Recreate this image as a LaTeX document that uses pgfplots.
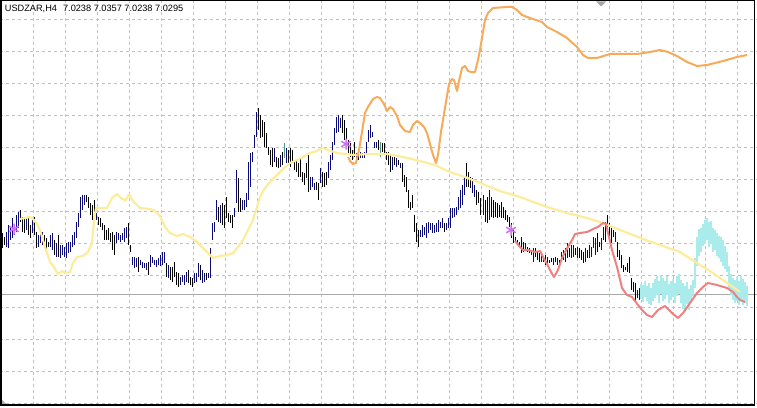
\documentclass[border=0pt]{standalone}
\usepackage{pgfplots}
\pgfplotsset{compat=1.18}
\usepackage{pgfplotstable}
\usepackage{fontspec}
\setmainfont{Liberation Sans}
\definecolor{barnavy}{RGB}{10,10,120}
\definecolor{barteal}{RGB}{80,150,130}
\definecolor{maY}{RGB}{253,236,155}
\definecolor{maO}{RGB}{246,170,90}
\definecolor{maR}{RGB}{240,128,128}
\definecolor{cyb}{RGB}{170,236,236}
\definecolor{gridc}{RGB}{192,192,192}
\definecolor{starc}{RGB}{210,110,240}

% bars in screen pixels: x, top y, bottom y, colour (0 black, 1 navy, 2 teal)
\pgfplotstableread{
x t b c
2 233 248 0
4 237 245 0
6 232 247 1
8 225 248 1
10 227 240 1
12 218 238 1
14 225 235 1
16 215 232 1
18 212 228 1
20 210 222 0
22 217 232 0
24 218 233 0
26 217 230 1
28 217 235 0
30 225 238 0
32 218 233 1
34 217 235 0
36 232 248 0
38 235 247 1
40 233 243 1
42 232 245 1
44 235 247 0
46 238 250 0
48 242 247 0
50 235 247 1
52 233 250 1
54 240 255 0
56 243 257 1
58 235 257 0
60 245 258 1
62 245 255 1
64 247 257 1
66 243 258 1
68 242 253 1
70 242 252 1
72 235 247 1
74 232 245 1
76 222 238 1
78 213 227 1
80 197 218 1
82 195 210 1
84 195 205 1
86 195 202 0
88 197 208 0
90 203 215 0
92 205 220 0
94 200 218 0
96 213 220 1
98 217 225 0
100 218 227 0
102 223 230 0
104 225 240 0
106 230 240 0
108 228 240 0
110 233 242 0
112 232 250 0
114 235 255 0
116 232 243 1
118 233 240 1
120 235 242 1
122 233 240 1
124 228 242 1
126 227 238 1
128 223 245 0
130 245 252 0
132 257 265 1
134 257 268 1
136 258 267 1
138 257 272 0
140 260 265 1
142 262 268 1
144 263 268 1
146 263 270 1
148 262 275 0
150 255 267 1
152 257 263 1
154 260 265 1
156 260 267 1
158 258 265 1
160 255 266 1
162 252 265 1
164 252 263 1
166 263 277 0
168 265 278 1
170 267 280 0
172 267 282 0
174 262 277 0
176 272 285 0
178 273 287 0
180 277 285 1
182 275 282 1
184 275 285 1
186 272 282 1
188 270 283 0
190 277 285 0
192 278 287 0
194 273 283 1
196 273 282 1
198 263 277 1
200 265 280 0
202 270 283 1
204 273 282 1
206 273 280 0
208 273 278 1
210 248 278 1
212 223 240 1
214 222 232 1
216 200 220 1
218 207 222 0
220 205 223 1
222 203 225 0
224 205 228 0
226 197 218 0
228 213 222 0
230 215 223 0
232 215 228 0
234 208 217 1
236 170 203 1
238 178 212 0
240 198 212 0
242 200 210 1
244 200 210 1
246 193 207 1
248 162 200 1
250 153 187 1
252 152 162 1
254 135 148 1
256 112 137 1
258 108 130 0
260 115 138 0
262 120 137 0
264 122 147 0
266 133 148 0
268 147 155 0
270 150 165 0
272 148 167 0
274 148 162 1
276 157 167 0
278 158 168 0
280 155 167 1
282 152 165 0
284 143 158 2
286 148 163 1
288 150 163 0
290 148 167 0
292 150 163 0
294 160 170 0
296 160 172 0
298 163 177 0
300 158 177 0
302 172 182 0
304 173 185 0
306 163 178 0
308 153 192 0
310 177 190 1
312 177 187 1
314 183 190 1
316 182 190 0
318 183 200 0
320 168 183 1
322 172 187 0
324 173 187 0
326 172 185 0
328 162 178 1
330 155 170 1
332 142 160 1
334 128 145 1
336 117 133 1
338 115 132 1
340 118 128 1
342 115 133 0
344 120 140 0
346 128 148 0
348 140 153 0
350 143 157 0
352 150 160 0
354 142 157 0
356 153 160 1
358 152 160 0
360 152 158 1
362 153 158 1
364 152 158 1
366 142 153 1
368 130 142 1
370 125 138 1
372 132 137 1
374 142 148 1
376 142 148 1
378 140 150 0
380 142 157 2
382 143 152 0
384 143 153 0
386 152 160 0
388 152 165 0
390 155 172 0
392 157 170 1
394 157 165 0
396 158 167 1
398 160 165 0
400 163 168 1
402 163 182 0
404 175 187 0
406 177 192 0
408 190 208 0
410 202 210 0
412 195 208 0
414 215 232 0
416 223 242 0
418 230 247 0
420 230 237 1
422 225 237 1
424 227 235 1
426 223 238 1
428 222 233 1
430 223 230 1
432 223 233 1
434 225 233 1
436 223 232 1
438 220 232 1
440 222 228 1
442 218 228 1
444 223 232 0
446 223 230 1
448 218 228 1
450 208 228 1
452 208 218 1
454 208 217 1
456 207 215 1
458 197 210 1
460 190 208 1
462 185 205 1
464 178 195 1
466 163 187 0
468 172 187 0
470 177 188 0
472 178 193 1
474 185 197 1
476 190 205 0
478 192 203 0
480 198 215 0
483 195 215 1
485 200 222 0
487 197 223 0
489 190 220 1
491 197 217 0
493 200 218 0
495 202 217 0
497 203 218 0
499 205 217 0
501 202 218 0
503 207 218 0
505 210 220 0
507 215 222 0
509 217 227 0
511 223 238 0
513 230 243 0
515 237 243 1
517 240 245 0
519 242 247 1
521 237 253 0
523 242 252 0
525 243 250 1
527 247 252 0
529 248 253 0
531 250 255 1
533 248 262 1
535 248 257 0
537 252 260 0
539 253 262 0
541 255 262 1
543 258 262 0
545 255 265 0
547 257 263 1
549 260 263 0
551 258 262 0
553 258 265 1
555 257 262 0
557 258 265 1
559 260 267 0
561 252 262 1
563 250 260 1
565 248 262 1
567 243 258 1
569 248 257 0
571 245 258 1
573 245 257 1
575 248 255 0
577 247 258 1
579 248 258 0
581 250 260 0
583 252 263 0
585 248 262 1
587 250 258 0
589 245 258 1
591 247 257 1
593 237 248 1
595 238 255 1
597 233 252 0
599 242 247 0
601 238 250 1
603 227 240 1
605 222 242 0
607 215 232 0
609 223 242 0
611 228 243 0
613 230 237 0
615 232 242 1
617 242 257 0
619 250 260 0
621 255 268 0
623 265 272 0
625 267 270 0
627 263 272 0
629 257 273 0
631 278 290 0
633 282 292 0
635 283 302 0
637 290 298 1
639 288 300 1
}\bars

\pgfplotstableread{
x t b
641 284 299
643 285 302
645 281 297
647 286 301
649 283 304
651 288 305
653 283 301
655 279 298
657 276 295
659 281 303
661 275 294
663 278 301
665 281 299
667 276 295
669 284 303
671 281 300
673 279 297
675 283 303
677 276 296
679 274 294
681 280 303
683 283 309
685 286 312
687 282 304
689 289 310
691 285 300
693 280 296
695 258 288
697 237 266
699 229 256
701 228 252
703 224 246
705 220 244
707 218 240
709 222 247
711 221 244
713 228 252
715 230 250
717 233 256
719 236 258
721 237 262
723 240 266
725 246 269
727 252 272
729 266 289
731 274 295
733 278 300
735 280 303
737 277 301
739 281 305
741 276 300
743 279 305
745 282 303
747 286 306
}\cyanbars

\pgfplotsset{ohlc/.style={draw=none, mark=none, forget plot,
  error bars/.cd, y dir=plus, y explicit, error mark=none,
  error bar style={draw=#1, solid, line width=1bp}}}

\begin{document}
\begin{tikzpicture}
\begin{axis}[
  scale only axis, width=757bp, height=408bp,
  xmin=0, xmax=757, ymin=0, ymax=408, y dir=reverse,
  axis line style={draw=none},
  xtick={33.5,65.5,...,740}, ytick={19.5,51.5,...,404},
  major tick length=0pt,
  xticklabels={}, yticklabels={},
  grid=major,
  grid style={gridc, dash pattern=on 3bp off 3bp, line width=1bp},
]
% current price line
\addplot[draw={rgb,255:red,170;green,170;blue,170}, line width=1bp, mark=none] coordinates {(0,294.5) (757,294.5)};

% OHLC bars
\addplot[restrict expr to domain={\thisrow{c}}{0:0}, ohlc=black]
  table[x expr=\thisrow{x}+0.5, y=t, y error expr=\thisrow{b}-\thisrow{t}] {\bars};
\addplot[restrict expr to domain={\thisrow{c}}{1:1}, ohlc=barnavy]
  table[x expr=\thisrow{x}+0.5, y=t, y error expr=\thisrow{b}-\thisrow{t}] {\bars};
\addplot[restrict expr to domain={\thisrow{c}}{2:2}, ohlc=barteal]
  table[x expr=\thisrow{x}+0.5, y=t, y error expr=\thisrow{b}-\thisrow{t}] {\bars};
\addplot[draw=none, mark=none, forget plot,
  error bars/.cd, y dir=plus, y explicit, error mark=none,
  error bar style={draw=cyb, solid, line width=2.1bp}]
  table[x=x, y=t, y error expr=\thisrow{b}-\thisrow{t}] {\cyanbars};

% yellow moving average
\addplot[maY, line width=2.2bp, line join=round, mark=none] coordinates {
(20,219)(25,218)(30,217)(33,219)(37,224)(40,230)(43,240)(46,250)(50,262)(54,267)
(58,274)(62,271)(65,273)(70,272)(73,263)(77,257)(83,256)(88,252)(92,243)(94,220)
(96,208)(100,208)(107,208)(112,198)(117,194)(122,199)(126,200)(129,194)(133,201)
(140,208)(150,209)(155,211)(160,216)(165,227)(170,233)(177,236)(183,234)(190,237)
(197,242)(203,248)(208,253)(213,258)(220,256)(227,255)(233,253)(238,247)(243,240)
(248,230)(253,220)(257,207)(260,197)(265,188)(270,182)(277,175)(282,170)(290,163)
(297,160)(303,157)(310,153)(317,151)(322,148)(328,150)(337,153)(353,155)(370,154)
(387,154)(403,157)(420,161)(435,165)(450,172)(465,177)(480,183)(500,191)(520,197)
(547,207)(567,213)(587,218)(603,223)(620,230)(643,239)(660,245)(680,252)(697,263)
(713,273)(730,285)(740,292)};

% orange line
\addplot[maO, line width=2bp, line join=round, mark=none] coordinates {
(348,157)(350,161)(353,164)(356,163)(359,150)(362,132)(365,113)(368,107)(373,99)
(377,97)(380,98)(384,104)(387,111)(390,107)(393,109)(397,116)(400,125)(405,131)
(410,132)(413,125)(417,121)(420,123)(424,127)(427,133)(430,144)(433,155)(436,163)
(438,155)(441,132)(444,114)(447,96)(449,84)(452,79)(454,80)(457,91)(459,81)(462,68)
(465,66)(468,71)(471,72)(475,72)(478,60)(480,50)(483,32)(485,20)(488,13)(493,8)
(500,7.5)(507,7)(512,7)(517,10)(522,15)(530,18)(542,22)(547,27)(557,32)(567,38)
(577,47)(583,55)(588,58)(597,58)(610,54)(623,54)(637,54)(650,52)(660,50)(668,52)
(677,56)(687,62)(697,66)(707,65)(723,61)(737,57)(747,55)};

% red line
\addplot[maR, line width=2bp, line join=round, mark=none] coordinates {
(515,241)(520,247)(523,250)(528,250)(535,252)(540,251)(543,257)(547,264)(551,272)
(554,277)(558,270)(562,258)(565,252)(568,247)(572,240)(575,234)(580,233)(587,232)
(593,229)(598,227)(603,223)(606,224)(608,233)(612,250)(617,267)(622,288)(627,295)
(632,297)(638,305)(643,311)(647,315)(652,317)(658,310)(665,306)(672,313)(678,318)
(683,313)(690,303)(697,293)(703,287)(708,283)(717,285)(727,288)(733,292)(737,297)
(740,300)(745,302)};

% signal stars
\addplot[only marks, mark=asterisk, mark size=5.5bp, starc, line width=1.5bp]
  coordinates {(14,229)(346,144)(511,230)};

\fill[gray!70] (axis cs:596,1.5) -- (axis cs:606,1.5) -- (axis cs:601,6.5) -- cycle;
\fill[gray!60] (axis cs:1.5,399) -- (axis cs:1.5,404.5) -- (axis cs:7,404.5) -- cycle;
\draw[black, line width=1.5bp] (axis cs:0.75,0.6) rectangle (axis cs:754.5,405);
\node[anchor=base west, inner sep=0pt, font=\fontsize{9.2bp}{11bp}\selectfont]
  at (axis cs:4.7,11.3) {USDZAR,H4\hspace{3.5bp} 7.0238 7.0357 7.0238 7.0295};
\end{axis}
\pgfresetboundingbox
\useasboundingbox (current axis.south west) rectangle (current axis.north east);
\end{tikzpicture}
\end{document}
